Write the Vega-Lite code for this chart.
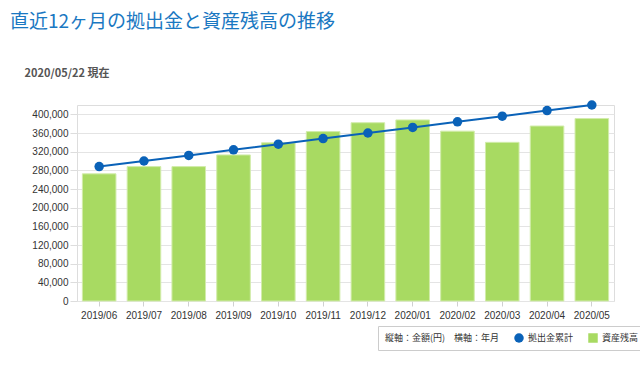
{
  "$schema": "https://vega.github.io/schema/vega-lite/v6.json",
  "width": 537,
  "height": 196,
  "autosize": {"type": "none"},
  "padding": {"left": 77, "top": 105, "right": 26, "bottom": 68},
  "background": "white",
  "title": {
    "text": "直近12ヶ月の拠出金と資産残高の推移",
    "anchor": "start",
    "frame": "group",
    "dx": -67,
    "offset": 35,
    "fontSize": 19,
    "fontWeight": "normal",
    "font": "Noto Sans CJK JP",
    "color": "#1a78c2"
  },
  "data": {
    "values": [
      {"month": "2019/06", "balance": 272500, "contribution": 288000},
      {"month": "2019/07", "balance": 288000, "contribution": 300000},
      {"month": "2019/08", "balance": 288000, "contribution": 312000},
      {"month": "2019/09", "balance": 313000, "contribution": 324000},
      {"month": "2019/10", "balance": 339000, "contribution": 336000},
      {"month": "2019/11", "balance": 363000, "contribution": 348000},
      {"month": "2019/12", "balance": 382000, "contribution": 360000},
      {"month": "2020/01", "balance": 388000, "contribution": 372000},
      {"month": "2020/02", "balance": 364000, "contribution": 384000},
      {"month": "2020/03", "balance": 340000, "contribution": 396000},
      {"month": "2020/04", "balance": 375000, "contribution": 408000},
      {"month": "2020/05", "balance": 391000, "contribution": 420000}
    ]
  },
  "encoding": {
    "x": {
      "field": "month",
      "type": "ordinal",
      "sort": null,
      "scale": {"paddingInner": 0.25, "paddingOuter": 0.12},
      "axis": {
        "title": null,
        "labelAngle": 0,
        "labelFontSize": 10,
        "labelFont": "Liberation Sans",
        "labelColor": "#333333",
        "labelPadding": 4,
        "tickSize": 5,
        "tickColor": "#d0d0d0",
        "domain": false,
        "grid": false
      }
    }
  },
  "layer": [
    {
      "mark": {"type": "bar", "color": "#a8da62", "stroke": "#d2ecab", "strokeWidth": 1},
      "encoding": {
        "y": {
          "field": "balance",
          "type": "quantitative",
          "scale": {"domain": [0, 420000], "nice": false},
          "axis": {
            "title": "2020/05/22 現在",
            "titleAngle": 0,
            "titleAlign": "left",
            "titleBaseline": "middle",
            "titleX": -53,
            "titleY": -32,
            "titleFont": "Noto Sans CJK JP",
            "titleFontSize": 11,
            "titleFontWeight": "bold",
            "titleColor": "#555555",
            "values": [0, 40000, 80000, 120000, 160000, 200000, 240000, 280000, 320000, 360000, 400000],
            "format": ",d",
            "labelFontSize": 10,
            "labelFont": "Liberation Sans",
            "labelColor": "#333333",
            "labelPadding": 2,
            "tickSize": 7,
            "tickColor": "#dddddd",
            "gridColor": "#e4e4e4",
            "domain": false
          }
        },
        "color": {
          "datum": "資産残高",
          "scale": {"domain": ["拠出金累計", "資産残高"], "range": ["#0a62b8", "#a8da62"]},
          "legend": {
            "title": "縦軸：金額(円)　横軸：年月",
            "titleOrient": "left",
            "titleFontWeight": "normal",
            "titleFontSize": 9,
            "titleFont": "Noto Sans CJK JP",
            "titleColor": "#333333",
            "titlePadding": 14,
            "labelFont": "Noto Sans CJK JP",
            "labelFontSize": 9,
            "labelColor": "#333333",
            "direction": "horizontal",
            "orient": "none",
            "legendX": 301,
            "legendY": 221,
            "strokeColor": "#cccccc",
            "padding": 7,
            "columnPadding": 14,
            "symbolSize": 90,
            "symbolStrokeWidth": 0,
            "encode": {
              "symbols": {
                "update": {
                  "shape": {"signal": "datum.value === '資産残高' ? 'square' : 'circle'"}
                }
              }
            }
          }
        }
      }
    },
    {
      "mark": {"type": "line", "strokeWidth": 2, "point": {"filled": true, "size": 90}},
      "encoding": {
        "y": {
          "field": "contribution",
          "type": "quantitative",
          "axis": {
            "title": "2020/05/22 現在",
            "titleAngle": 0,
            "titleAlign": "left",
            "titleBaseline": "middle",
            "titleX": -53,
            "titleY": -32,
            "titleFont": "Noto Sans CJK JP",
            "titleFontSize": 11,
            "titleFontWeight": "bold",
            "titleColor": "#555555",
            "values": [0, 40000, 80000, 120000, 160000, 200000, 240000, 280000, 320000, 360000, 400000],
            "format": ",d",
            "labelFontSize": 10,
            "labelFont": "Liberation Sans",
            "labelColor": "#333333",
            "labelPadding": 2,
            "tickSize": 7,
            "tickColor": "#dddddd",
            "gridColor": "#e4e4e4",
            "domain": false
          }
        },
        "color": {
          "datum": "拠出金累計",
          "legend": {
            "title": "縦軸：金額(円)　横軸：年月",
            "titleOrient": "left",
            "titleFontWeight": "normal",
            "titleFontSize": 9,
            "titleFont": "Noto Sans CJK JP",
            "titleColor": "#333333",
            "titlePadding": 14,
            "labelFont": "Noto Sans CJK JP",
            "labelFontSize": 9,
            "labelColor": "#333333",
            "direction": "horizontal",
            "orient": "none",
            "legendX": 301,
            "legendY": 221,
            "strokeColor": "#cccccc",
            "padding": 7,
            "columnPadding": 14,
            "symbolSize": 90,
            "symbolStrokeWidth": 0,
            "encode": {
              "symbols": {
                "update": {
                  "shape": {"signal": "datum.value === '資産残高' ? 'square' : 'circle'"}
                }
              }
            }
          }
        }
      }
    }
  ],
  "config": {
    "view": {"stroke": "#dddddd"},
    "font": "Liberation Sans"
  }
}
